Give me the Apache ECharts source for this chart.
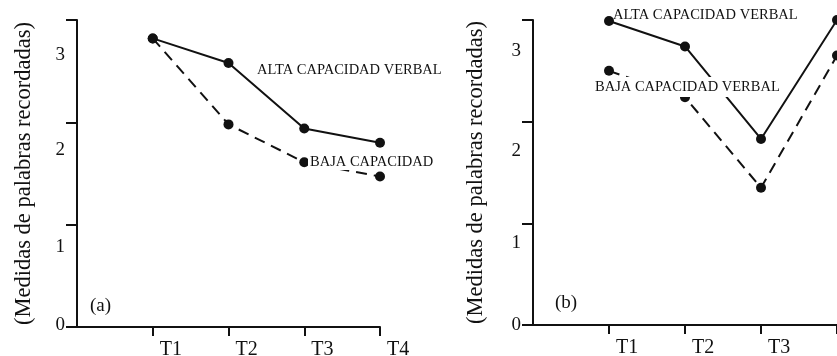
<!DOCTYPE html>
<html>
<head>
<meta charset="utf-8">
<script src="https://cdn.jsdelivr.net/npm/echarts@6/dist/echarts.min.js"></script>
<style>
html,body{margin:0;padding:0;background:#fff;}
#c{width:837px;height:356px;}
</style>
</head>
<body>
<div id="c"></div>
<script>
// ---- data ----
const timeLabels = ['T1', 'T2', 'T3', 'T4'];
const timePositions = [1, 2, 3, 4];
const yTickValues = [0, 1, 2, 3];
const altaA = [2.82, 2.58, 1.94, 1.80];
const bajaA = [2.82, 1.98, 1.61, 1.47];
const altaB = [2.99, 2.74, 1.83, 3.00];
const bajaB = [2.50, 2.24, 1.35, 2.65];
const yAxisTitle = '(Medidas de palabras recordadas)';
const altaName = 'ALTA CAPACIDAD VERBAL';
const bajaName = 'BAJA CAPACIDAD VERBAL';
const bajaShortName = 'BAJA CAPACIDAD';

const SERIF = '"Liberation Serif", "DejaVu Serif", serif';
const INK = '#111';

function pairs(vals) { return vals.map((v, i) => [timePositions[i], v]); }

function yLabelRich(offsets) {
  const rich = {};
  yTickValues.forEach(v => {
    const o = offsets[v];
    rich['o' + v] = {
      fontFamily: SERIF, fontSize: 19, color: INK,
      padding: o >= 0 ? [2 * o, 0, 0, 0] : [0, 0, -2 * o, 0]
    };
  });
  return rich;
}

function xAxisCfg(gridIndex) {
  return {
    type: 'value', gridIndex, min: 0, max: 4, interval: 1,
    axisLine: { show: true, lineStyle: { color: INK, width: 2 } },
    axisTick: { show: true, customValues: timePositions, length: 9, lineStyle: { color: INK, width: 2 } },
    axisLabel: {
      customValues: timePositions,
      formatter: v => timeLabels[timePositions.indexOf(v)] || '',
      align: 'left', padding: [0, 0, 0, 7], margin: 13,
      fontFamily: SERIF, fontSize: 20, color: INK
    },
    splitLine: { show: false }
  };
}

function yAxisCfg(gridIndex, offsets, gap) {
  return {
    type: 'value', gridIndex, min: 0, max: 3, interval: 1,
    name: yAxisTitle, nameLocation: 'middle', nameGap: gap,
    nameTextStyle: { fontFamily: SERIF, fontSize: 22.5, color: INK },
    axisLine: { show: true, lineStyle: { color: INK, width: 2 } },
    axisTick: { show: true, length: 11, lineStyle: { color: INK, width: 2 } },
    axisLabel: {
      margin: 12,
      formatter: v => '{o' + v + '|' + v + '}',
      rich: yLabelRich(offsets)
    },
    splitLine: { show: false }
  };
}

function lineSeries(name, vals, idx, dashed) {
  return {
    name, type: 'line', xAxisIndex: idx, yAxisIndex: idx,
    data: pairs(vals),
    symbol: 'circle', symbolSize: 10,
    itemStyle: { color: INK },
    lineStyle: { color: INK, width: 2, type: dashed ? [11, 7] : 'solid' },
    clip: false, animation: false, z: 2
  };
}

function txt(text, x, y, size, extra) {
  return {
    type: 'text', z: 50,
    style: Object.assign({
      text, x, y, fill: INK, font: size + 'px ' + SERIF,
      align: 'left', verticalAlign: 'middle'
    }, extra || {})
  };
}

const chart = echarts.init(document.getElementById('c'), null, { renderer: 'canvas' });
chart.setOption({
  backgroundColor: '#fff',
  animation: false,
  grid: [
    { left: 77, top: 20, width: 303, height: 307, containLabel: false, outerBoundsMode: 'none' },
    { left: 533, top: 20, width: 304, height: 305, containLabel: false, outerBoundsMode: 'none' }
  ],
  xAxis: [xAxisCfg(0), xAxisCfg(1)],
  yAxis: [
    yAxisCfg(0, { 0: -2, 1: 22, 2: 28, 3: 35 }, 41),
    yAxisCfg(1, { 0: 0, 1: 20, 2: 29, 3: 31 }, 45)
  ],
  series: [
    lineSeries(altaName, altaA, 0, false),
    lineSeries(bajaName, bajaA, 0, true),
    lineSeries(altaName, altaB, 1, false),
    lineSeries(bajaName, bajaB, 1, true)
  ],
  graphic: [
    txt('(a)', 90, 306, 19),
    txt('(b)', 555, 303, 19),
    txt(altaName, 257, 70, 14.5),
    txt(bajaShortName, 308, 162, 14.5, { backgroundColor: '#fff', padding: [1, 2, 0, 2] }),
    txt(altaName, 613, 15, 14.5),
    txt(bajaName, 593, 87, 14.5, { backgroundColor: '#fff', padding: [3, 2, 2, 2] })
  ]
});
</script>
</body>
</html>
